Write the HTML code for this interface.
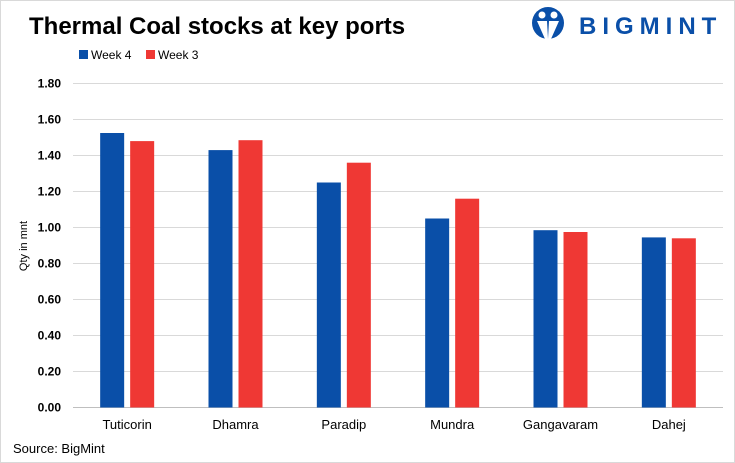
<!DOCTYPE html>
<html><head><style>
body{margin:0;background:#fff;font-family:"Liberation Sans",Arial,sans-serif}
#wrap{position:relative;width:733px;height:461px;border:1px solid #d9d9d9;overflow:hidden}
</style></head><body>
<div id="wrap">
<svg id="c" width="735" height="463">
<text x="28" y="33" font-size="24" font-weight="bold" fill="#000">Thermal Coal stocks at key ports</text>
<g>
<circle cx="547" cy="22" r="16" fill="#0a4fa8"/>
<circle cx="541" cy="14" r="3.5" fill="#fff"/>
<circle cx="553" cy="14" r="3.5" fill="#fff"/>
<path d="M536 20 L546 20 L547 38 L544 38 Z M548 20 L558 20 L550 38 L547 38 Z" fill="#fff"/>
<text x="578" y="33" font-size="24" font-weight="bold" fill="#0a4fa8" style="letter-spacing:6px">BIGMINT</text>
</g>
<g>
<rect x="78" y="49" width="9" height="9" fill="#0a4fa8"/>
<text x="90" y="58" font-size="12">Week 4</text>
<rect x="145" y="49" width="9" height="9" fill="#ef3834"/>
<text x="157" y="58" font-size="12">Week 3</text>
</g>
<text transform="translate(26,245) rotate(-90)" text-anchor="middle" font-size="11">Qty in mnt</text>
<text x="12" y="452" font-size="13">Source: BigMint</text>
<g id="grid"></g><g id="bars"></g><g id="labels"></g>
</svg>
</div>
<script>
const categories=["Tuticorin","Dhamra","Paradip","Mundra","Gangavaram","Dahej"];
const week4=[1.525,1.43,1.25,1.05,0.985,0.945];
const week3=[1.48,1.485,1.36,1.16,0.975,0.94];
const ticks=[0,0.2,0.4,0.6,0.8,1.0,1.2,1.4,1.6,1.8];
const ns="http://www.w3.org/2000/svg";
const x0=72,x1=722,y0=406.5,ppu=180;
const y=v=>y0-v*ppu;
const bw=(x1-x0)/categories.length;
function mk(t,a,p){const e=document.createElementNS(ns,t);for(const k in a)e.setAttribute(k,a[k]);p.appendChild(e);return e;}
const grid=document.getElementById('grid'),bars=document.getElementById('bars'),labels=document.getElementById('labels');
ticks.forEach(t=>{
 const l=mk('line',{x1:x0,x2:x1,y1:y(t),y2:y(t),stroke:t===0?'#bfbfbf':'#d9d9d9','stroke-width':1},grid);
 
 
 const tx=mk('text',{x:60,y:y(t)+4,'text-anchor':'end','font-size':12,'font-weight':'bold'},labels);
 tx.textContent=t.toFixed(2);
 
 
});
categories.forEach((c,i)=>{
 const cx=x0+bw*(i+0.5);
 const b1=mk('rect',{x:cx-27,y:y(week4[i]),width:24,height:week4[i]*ppu,fill:'#0a4fa8'},bars);
 
 
 const b2=mk('rect',{x:cx+3,y:y(week3[i]),width:24,height:week3[i]*ppu,fill:'#ef3834'},bars);
 
 
 const t=mk('text',{x:cx,y:428,'text-anchor':'middle','font-size':13},labels);
 t.textContent=c;
 
 
});
</script>
</body></html>
